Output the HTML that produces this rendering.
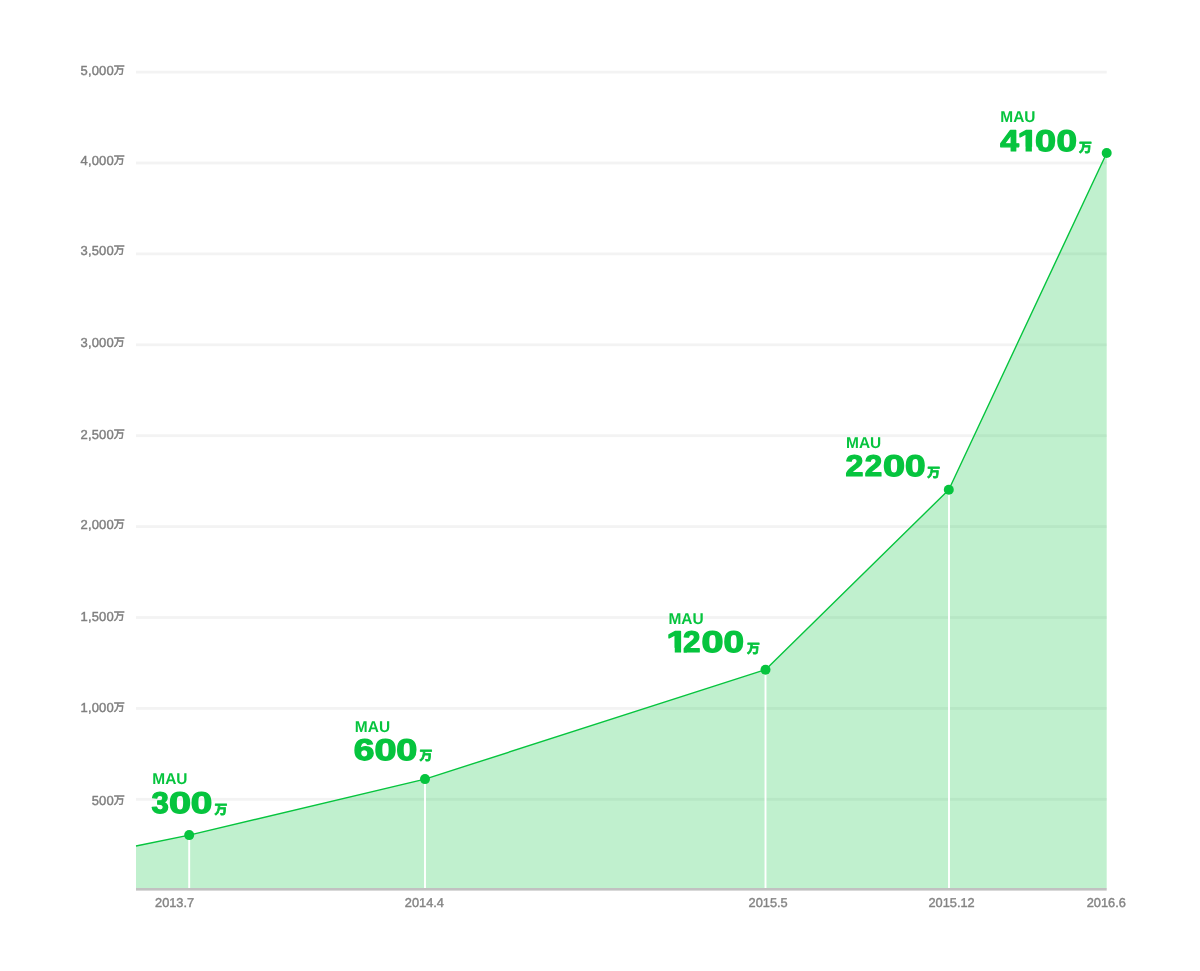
<!DOCTYPE html>
<html lang="ja">
<head>
<meta charset="utf-8">
<title>MAU</title>
<style>
  html, body { margin: 0; padding: 0; background: #ffffff; }
  body { width: 1200px; height: 971px; overflow: hidden; }
  svg { display: block; filter: blur(0.5px); }
  svg text { text-rendering: geometricPrecision; }
  .ylab { font-family: "Liberation Sans", "Noto Sans CJK JP", sans-serif; font-size: 13px; fill: #7f7f7f; stroke: #7f7f7f; stroke-width: 0.4px; text-anchor: end; letter-spacing: 0.15px; }
  .yman { font-size: 11px; stroke-width: 0.55px; }
  .xlab { font-family: "Liberation Sans", "Noto Sans CJK JP", sans-serif; font-size: 12.8px; fill: #848484; stroke: #848484; stroke-width: 0.4px; text-anchor: middle; }
  .mau  { font-family: "Liberation Sans", "Noto Sans CJK JP", sans-serif; font-size: 15.8px; font-weight: bold; fill: #06c43e; }
  .num  { font-family: "Liberation Sans", "Noto Sans CJK JP", sans-serif; font-size: 30px; font-weight: bold; fill: #06c43e; stroke: #06c43e; stroke-width: 1.2px; stroke-linejoin: round; }
  .man  { font-family: "Liberation Sans", "Noto Sans CJK JP", sans-serif; font-size: 12.9px; font-weight: bold; fill: #06c43e; stroke: #06c43e; stroke-width: 0.8px; stroke-linejoin: round; }
</style>
</head>
<body>
<svg width="1200" height="971" viewBox="0 0 1200 971">
  <rect x="0" y="0" width="1200" height="971" fill="#ffffff"/>

  <!-- horizontal grid lines -->
  <g fill="#f3f3f3">
    <rect x="136" y="70.7" width="970.7" height="2.8"/>
    <rect x="136" y="161.6" width="970.7" height="2.8"/>
    <rect x="136" y="252.5" width="970.7" height="2.8"/>
    <rect x="136" y="343.4" width="970.7" height="2.8"/>
    <rect x="136" y="434.3" width="970.7" height="2.8"/>
    <rect x="136" y="525.2" width="970.7" height="2.8"/>
    <rect x="136" y="616.1" width="970.7" height="2.8"/>
    <rect x="136" y="707.0" width="970.7" height="2.8"/>
    <rect x="136" y="797.9" width="970.7" height="2.8"/>
  </g>

  <!-- y axis labels -->
  <g class="ylab">
    <text x="125" y="75">5,000<tspan class="yman" dy="-1">万</tspan></text>
    <text x="125" y="165">4,000<tspan class="yman" dy="-1">万</tspan></text>
    <text x="125" y="255">3,500<tspan class="yman" dy="-1">万</tspan></text>
    <text x="125" y="347">3,000<tspan class="yman" dy="-1">万</tspan></text>
    <text x="125" y="439">2,500<tspan class="yman" dy="-1">万</tspan></text>
    <text x="125" y="529">2,000<tspan class="yman" dy="-1">万</tspan></text>
    <text x="125" y="621">1,500<tspan class="yman" dy="-1">万</tspan></text>
    <text x="125" y="712">1,000<tspan class="yman" dy="-1">万</tspan></text>
    <text x="125" y="805">500<tspan class="yman" dy="-1">万</tspan></text>
  </g>

  <!-- area -->
  <path d="M136,846 L189.2,835.1 L425,779.1 L765.5,669.7 L948.8,489.7 L1106.7,153 L1106.7,888.3 L136,888.3 Z" fill="#06c43e" fill-opacity="0.255"/>

  <!-- white drop lines -->
  <g fill="#ffffff">
    <rect x="188.25" y="835" width="1.9" height="53.3"/>
    <rect x="424.05" y="779" width="1.9" height="109.3"/>
    <rect x="764.55" y="670" width="1.9" height="218.3"/>
    <rect x="948.05" y="490" width="1.9" height="398.3"/>
  </g>

  <!-- base axis -->
  <rect x="136" y="888" width="970.7" height="2.6" fill="#c1c1c1"/>

  <!-- line -->
  <path d="M136,846 L189.2,835.1 L425,779.1 L765.5,669.7 L948.8,489.7 L1106.7,153" fill="none" stroke="#06c43e" stroke-width="1.4" stroke-linejoin="round"/>

  <!-- points -->
  <g fill="#06c43e">
    <circle cx="189.2"  cy="835.1" r="5"/>
    <circle cx="425"    cy="779.1" r="5"/>
    <circle cx="765.5"  cy="669.7" r="5"/>
    <circle cx="948.8"  cy="489.7" r="5"/>
    <circle cx="1106.7" cy="153"   r="5"/>
  </g>

  <!-- x axis labels -->
  <g class="xlab">
    <text x="174.60" y="907">2013.7</text>
    <text x="424.40" y="907">2014.4</text>
    <text x="768.15" y="907">2015.5</text>
    <text x="951.60" y="907">2015.12</text>
    <text x="1106.30" y="907">2016.6</text>
  </g>

  <!-- data labels -->
  <text class="mau" x="152.27" y="784.00" textLength="35.2" lengthAdjust="spacingAndGlyphs">MAU</text>
  <text class="num" y="813.00"><tspan x="151.49" textLength="17.34" lengthAdjust="spacingAndGlyphs">3</tspan><tspan x="168.98" textLength="22.05" lengthAdjust="spacingAndGlyphs">0</tspan><tspan x="190.67" textLength="21.52" lengthAdjust="spacingAndGlyphs">0</tspan></text>
  <text class="man" x="214.50" y="814.00">万</text>

  <text class="mau" x="354.87" y="732.00" textLength="35.2" lengthAdjust="spacingAndGlyphs">MAU</text>
  <text class="num" y="760.00"><tspan x="353.84" textLength="20.71" lengthAdjust="spacingAndGlyphs">6</tspan><tspan x="374.48" textLength="22.05" lengthAdjust="spacingAndGlyphs">0</tspan><tspan x="396.20" textLength="21.05" lengthAdjust="spacingAndGlyphs">0</tspan></text>
  <text class="man" x="419.60" y="760.00">万</text>

  <text class="mau" x="668.47" y="624.00" textLength="35.2" lengthAdjust="spacingAndGlyphs">MAU</text>
  <text class="num" y="652.00"><tspan x="666.64" textLength="20.80" lengthAdjust="spacingAndGlyphs">1</tspan><tspan x="683.11" textLength="17.44" lengthAdjust="spacingAndGlyphs">2</tspan><tspan x="701.43" textLength="21.99" lengthAdjust="spacingAndGlyphs">0</tspan><tspan x="723.59" textLength="20.53" lengthAdjust="spacingAndGlyphs">0</tspan></text>
  <g fill="#ffffff"><rect x="667.20" y="647.84" width="7.57" height="5.96"/><rect x="681.10" y="647.84" width="2.50" height="5.96"/></g>
  <text class="man" x="746.95" y="653.00">万</text>

  <text class="mau" x="846.07" y="448.00" textLength="35.2" lengthAdjust="spacingAndGlyphs">MAU</text>
  <text class="num" y="476.00"><tspan x="845.48" textLength="17.91" lengthAdjust="spacingAndGlyphs">2</tspan><tspan x="864.71" textLength="17.44" lengthAdjust="spacingAndGlyphs">2</tspan><tspan x="882.98" textLength="22.05" lengthAdjust="spacingAndGlyphs">0</tspan><tspan x="905.13" textLength="20.59" lengthAdjust="spacingAndGlyphs">0</tspan></text>
  <text class="man" x="927.30" y="477.00">万</text>

  <text class="mau" x="1000.27" y="122.00" textLength="35.2" lengthAdjust="spacingAndGlyphs">MAU</text>
  <text class="num" y="151.00"><tspan x="1000.29" textLength="18.69" lengthAdjust="spacingAndGlyphs">4</tspan><tspan x="1017.44" textLength="20.80" lengthAdjust="spacingAndGlyphs">1</tspan><tspan x="1035.10" textLength="21.05" lengthAdjust="spacingAndGlyphs">0</tspan><tspan x="1056.44" textLength="20.53" lengthAdjust="spacingAndGlyphs">0</tspan></text>
  <g fill="#ffffff"><rect x="1018.95" y="146.79" width="6.62" height="6.01"/><path d="M1031.90,146.84 L1037.20,146.84 L1038.30,148.40 L1038.30,152.80 L1031.90,152.80 Z"/></g>
  <text class="man" x="1078.95" y="152.00">万</text>
</svg>
</body>
</html>
